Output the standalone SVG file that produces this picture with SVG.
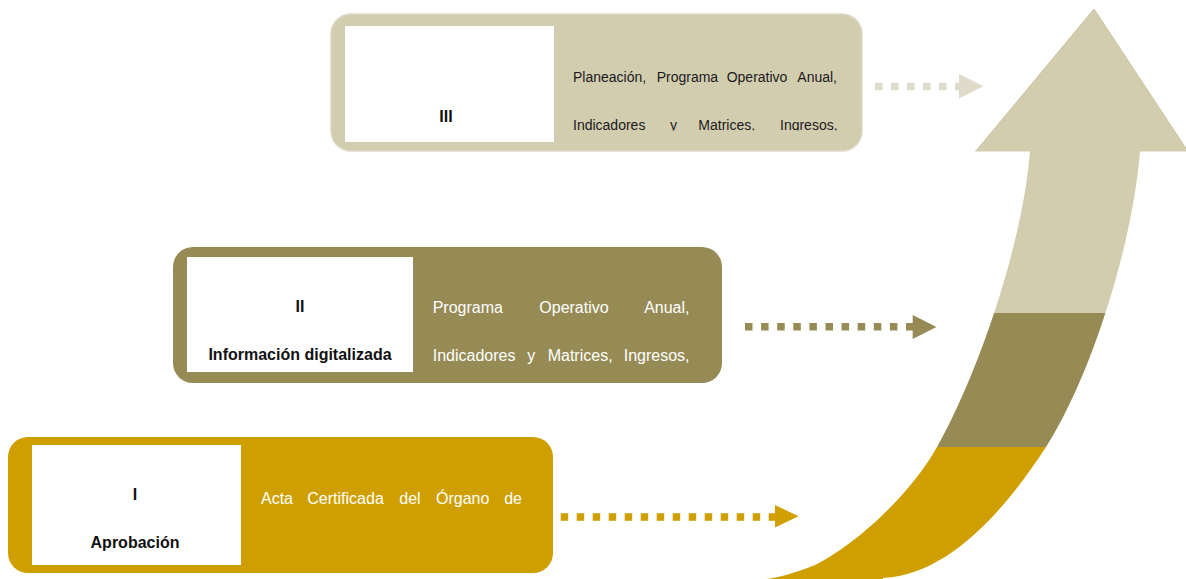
<svg xmlns="http://www.w3.org/2000/svg" xmlns:xlink="http://www.w3.org/1999/xlink" width="1186" height="579" viewBox="0 0 1186 579">
  <style>
    .lbl { font-family: "Liberation Sans", Arial, sans-serif; font-weight: bold; font-size: 16px; fill: #111111; text-anchor: middle; }
    .body14 { font-family: "Liberation Sans", Arial, sans-serif; font-size: 14px; fill: #1a1a1a; }
    .body16 { font-family: "Liberation Sans", Arial, sans-serif; font-size: 16px; fill: #ffffff; }
    .end { text-anchor: end; }
    .inner { fill: #ffffff; }
  </style>
  <defs>
    <path id="arrowPath" d="M 1094 9 L 1188 151.5 L 1140 151.5 C 1132 250, 1089 380, 1046 447 C 1007 507, 950 575, 883 578 L 883 592 L 758 592 L 760 580 C 775 578, 790 575, 815 565 C 850 548, 907 500, 937 447 C 975 380, 1022 250, 1030 151.5 L 975.5 151.5 Z"/>
    <clipPath id="arrowClip"><use xlink:href="#arrowPath"/></clipPath>
    <clipPath id="clipIII"><rect x="555" y="20" width="300" height="110.5"/></clipPath>
  </defs>

  <g id="growth-arrow">
    <g clip-path="url(#arrowClip)">
      <rect x="740" y="0" width="450" height="313" fill="#D3CDB0"/>
      <rect x="740" y="313" width="450" height="134" fill="#968B55"/>
      <rect x="740" y="447" width="450" height="140" fill="#CF9F00"/>
    </g>
    <path d="M 975.5 151.5 L 1094 9 L 1188 151.5" fill="none" stroke="#C9C19E" stroke-width="1"/>
  </g>

  <g id="node-III">
    <rect x="331" y="14" width="531" height="137" rx="20" ry="20" fill="#D3CDB0" stroke="#DDD9C6" stroke-width="1.5"/>
    <rect class="inner" x="345" y="26" width="209" height="116"/>
    <text class="lbl" x="446" y="122">III</text>
    <g clip-path="url(#clipIII)">
      <text class="body14" y="82"><tspan x="573">Planeación,</tspan><tspan x="656.7">Programa</tspan><tspan x="726.7">Operativo</tspan><tspan x="797.3">Anual,</tspan></text>
      <text class="body14" y="129.5"><tspan x="573">Indicadores</tspan><tspan x="670">y</tspan><tspan x="698.3">Matrices,</tspan><tspan x="780">Ingresos,</tspan></text>
    </g>
  </g>

  <g id="node-II">
    <rect x="173" y="247" width="549" height="136" rx="20" ry="20" fill="#968B55"/>
    <rect class="inner" x="187" y="257" width="226" height="115"/>
    <text class="lbl" x="300" y="312">II</text>
    <text class="lbl" x="300" y="360">Información digitalizada</text>
    <text class="body16" y="312.5"><tspan x="432.7">Programa</tspan><tspan x="539.3">Operativo</tspan></text>
    <text class="body16 end" x="689.5" y="312.5">Anual,</text>
    <text class="body16" y="361"><tspan x="432.7">Indicadores</tspan><tspan x="527.3">y</tspan><tspan x="547.7">Matrices,</tspan></text>
    <text class="body16 end" x="689.5" y="361">Ingresos,</text>
  </g>

  <g id="node-I">
    <rect x="8" y="437" width="545" height="136" rx="20" ry="20" fill="#CF9F00"/>
    <rect class="inner" x="32" y="445" width="209" height="120"/>
    <text class="lbl" x="135" y="500">I</text>
    <text class="lbl" x="135" y="548">Aprobación</text>
    <text class="body16" y="504"><tspan x="261">Acta</tspan><tspan x="307.3">Certificada</tspan><tspan x="399.3">del</tspan><tspan x="436">Órgano</tspan></text>
    <text class="body16 end" x="522" y="504">de</text>
  </g>

  <g id="connectors">
    <g id="conn-III">
      <line x1="875" y1="86.5" x2="959" y2="86.5" stroke="#DFDBCA" stroke-width="7.5" stroke-dasharray="7.5 8.5"/>
      <polygon points="959,74 983.5,86.3 959,98.5" fill="#DFDBCA"/>
    </g>
    <g id="conn-II">
      <line x1="745" y1="326.7" x2="913" y2="326.7" stroke="#968B55" stroke-width="7.5" stroke-dasharray="7.5 8.6"/>
      <polygon points="912.7,315 936.5,327 912.7,339" fill="#968B55"/>
    </g>
    <g id="conn-I">
      <line x1="560.7" y1="517" x2="775" y2="517" stroke="#D09F00" stroke-width="7.5" stroke-dasharray="7.5 8.5"/>
      <polygon points="775,505 798.5,516.3 775,527.5" fill="#D09F00"/>
    </g>
  </g>
</svg>
